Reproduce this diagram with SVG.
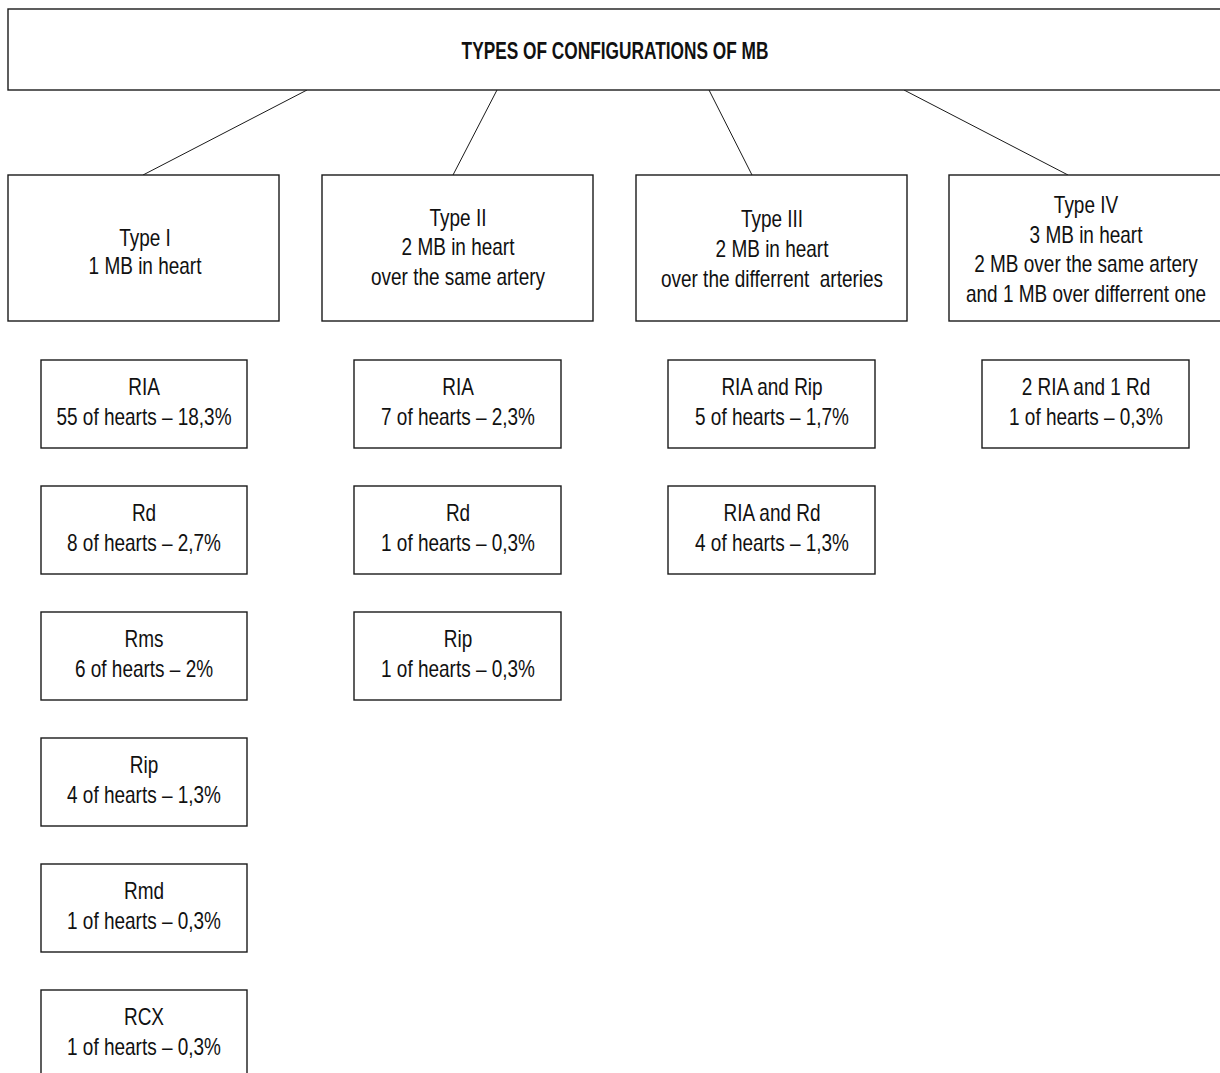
<svg xmlns="http://www.w3.org/2000/svg" width="1220" height="1073" viewBox="0 0 1220 1073">
<style>
.box{fill:#fff;stroke:#1a1a1a;stroke-width:1.4}
.t{font-family:"Liberation Sans",Arial,sans-serif;font-size:23px;fill:#111;text-anchor:middle}
.title{font-family:"Liberation Sans",Arial,sans-serif;font-size:24px;font-weight:bold;fill:#111;text-anchor:middle}
.conn line{stroke:#1a1a1a;stroke-width:1}
</style>
<rect width="1220" height="1073" fill="#fff"/>
<g class="conn" id="connectors">
<line x1="307" y1="90" x2="143" y2="175"/>
<line x1="497" y1="90" x2="453" y2="175"/>
<line x1="709" y1="90" x2="752" y2="175"/>
<line x1="904" y1="90" x2="1068" y2="175"/>
</g>
<g id="root">
<rect class="box" x="8" y="9" width="1222" height="81"/>
<text class="title" transform="translate(615,59) scale(0.72,1)">TYPES OF CONFIGURATIONS OF MB</text>
</g>
<g id="type1">
<rect class="box" x="8" y="175" width="271" height="146"/>
<text class="t" transform="translate(145,246) scale(0.825,1)">Type I</text>
<text class="t" transform="translate(145,274) scale(0.825,1)">1 MB in heart</text>
</g>
<g id="type2">
<rect class="box" x="322" y="175" width="271" height="146"/>
<text class="t" transform="translate(458,226) scale(0.825,1)">Type II</text>
<text class="t" transform="translate(458,255) scale(0.825,1)">2 MB in heart</text>
<text class="t" transform="translate(458,285) scale(0.825,1)">over the same artery</text>
</g>
<g id="type3">
<rect class="box" x="636" y="175" width="271" height="146"/>
<text class="t" transform="translate(772,227) scale(0.825,1)">Type III</text>
<text class="t" transform="translate(772,257) scale(0.825,1)">2 MB in heart</text>
<text class="t" transform="translate(772,287) scale(0.825,1)" xml:space="preserve">over the differrent  arteries</text>
</g>
<g id="type4">
<rect class="box" x="949" y="175" width="281" height="146"/>
<text class="t" transform="translate(1086,213) scale(0.825,1)">Type IV</text>
<text class="t" transform="translate(1086,243) scale(0.825,1)">3 MB in heart</text>
<text class="t" transform="translate(1086,272) scale(0.825,1)">2 MB over the same artery</text>
<text class="t" transform="translate(1086,302) scale(0.825,1)">and 1 MB over differrent one</text>
</g>
<g id="c1r1"><rect class="box" x="41" y="360" width="206" height="88"/>
<text class="t" transform="translate(144,395) scale(0.825,1)">RIA</text>
<text class="t" transform="translate(144,425) scale(0.825,1)">55 of hearts – 18,3%</text></g>
<g id="c1r2"><rect class="box" x="41" y="486" width="206" height="88"/>
<text class="t" transform="translate(144,521) scale(0.825,1)">Rd</text>
<text class="t" transform="translate(144,551) scale(0.825,1)">8 of hearts – 2,7%</text></g>
<g id="c1r3"><rect class="box" x="41" y="612" width="206" height="88"/>
<text class="t" transform="translate(144,647) scale(0.825,1)">Rms</text>
<text class="t" transform="translate(144,677) scale(0.825,1)">6 of hearts – 2%</text></g>
<g id="c1r4"><rect class="box" x="41" y="738" width="206" height="88"/>
<text class="t" transform="translate(144,773) scale(0.825,1)">Rip</text>
<text class="t" transform="translate(144,803) scale(0.825,1)">4 of hearts – 1,3%</text></g>
<g id="c1r5"><rect class="box" x="41" y="864" width="206" height="88"/>
<text class="t" transform="translate(144,899) scale(0.825,1)">Rmd</text>
<text class="t" transform="translate(144,929) scale(0.825,1)">1 of hearts – 0,3%</text></g>
<g id="c1r6"><rect class="box" x="41" y="990" width="206" height="100"/>
<text class="t" transform="translate(144,1025) scale(0.825,1)">RCX</text>
<text class="t" transform="translate(144,1055) scale(0.825,1)">1 of hearts – 0,3%</text></g>
<g id="c2r1"><rect class="box" x="354" y="360" width="207" height="88"/>
<text class="t" transform="translate(458,395) scale(0.825,1)">RIA</text>
<text class="t" transform="translate(458,425) scale(0.825,1)">7 of hearts – 2,3%</text></g>
<g id="c2r2"><rect class="box" x="354" y="486" width="207" height="88"/>
<text class="t" transform="translate(458,521) scale(0.825,1)">Rd</text>
<text class="t" transform="translate(458,551) scale(0.825,1)">1 of hearts – 0,3%</text></g>
<g id="c2r3"><rect class="box" x="354" y="612" width="207" height="88"/>
<text class="t" transform="translate(458,647) scale(0.825,1)">Rip</text>
<text class="t" transform="translate(458,677) scale(0.825,1)">1 of hearts – 0,3%</text></g>
<g id="c3r1"><rect class="box" x="668" y="360" width="207" height="88"/>
<text class="t" transform="translate(772,395) scale(0.825,1)">RIA and Rip</text>
<text class="t" transform="translate(772,425) scale(0.825,1)">5 of hearts – 1,7%</text></g>
<g id="c3r2"><rect class="box" x="668" y="486" width="207" height="88"/>
<text class="t" transform="translate(772,521) scale(0.825,1)">RIA and Rd</text>
<text class="t" transform="translate(772,551) scale(0.825,1)">4 of hearts – 1,3%</text></g>
<g id="c4r1"><rect class="box" x="982" y="360" width="207" height="88"/>
<text class="t" transform="translate(1086,395) scale(0.825,1)">2 RIA and 1 Rd</text>
<text class="t" transform="translate(1086,425) scale(0.825,1)">1 of hearts – 0,3%</text></g>
</svg>
